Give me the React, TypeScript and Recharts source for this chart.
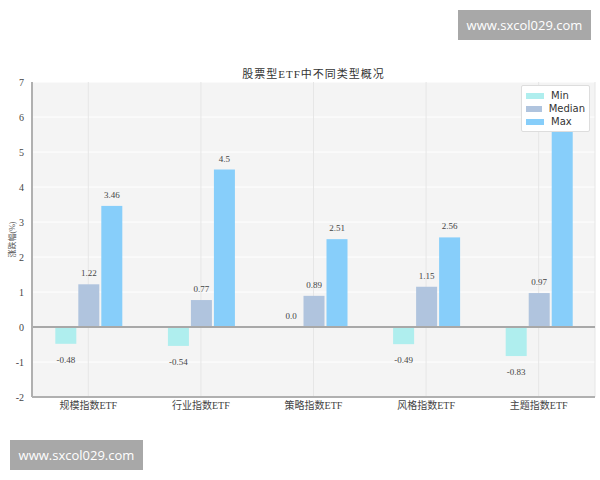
import React from 'react';
import { BarChart, Bar, XAxis, YAxis, CartesianGrid, ReferenceLine } from 'recharts';

const categories = ['规模指数ETF', '行业指数ETF', '策略指数ETF', '风格指数ETF', '主题指数ETF'];
const minValues = [-0.48, -0.54, 0, -0.49, -0.83];
const medianValues = [1.22, 0.77, 0.89, 1.15, 0.97];
const maxValues = [3.46, 4.5, 2.51, 2.56, 6.5];
const yTicks = [-2, -1, 0, 1, 2, 3, 4, 5, 6, 7];

const data = categories.map((name, i) => ({
  name,
  Min: minValues[i],
  Median: medianValues[i],
  Max: maxValues[i],
}));

const series = [
  { key: 'Min', color: '#afeeee' },
  { key: 'Median', color: '#b0c4de' },
  { key: 'Max', color: '#87cefa' },
];

const serif = '"Liberation Serif", "Noto Sans CJK SC", serif';

// bar + its value label, so that zero-height bars still get "0.0"
const makeShape = (key: string, color: string) => (props: any) => {
  const { x, y, width, height, payload } = props;
  const value = payload[key];
  const top = Math.min(y, y + height);
  const bottom = Math.max(y, y + height);
  const h = bottom - top;
  const ty = value < 0 ? bottom + 17 : top - 10;
  return (
    <g>
      {h > 0 && <rect x={x} y={top} width={width} height={h} fill={color} />}
      <text x={x + width / 2} y={ty} textAnchor="middle" dominantBaseline="middle" fontSize={9} fontFamily={serif} fill="#444">
        {value === 0 ? '0.0' : String(value)}
      </text>
    </g>
  );
};

const Watermark = ({ left, top }: { left: number; top: number }) => (
  <div
    style={{
      position: 'absolute',
      left,
      top,
      width: 133,
      height: 30,
      background: '#a8a8a8',
      color: '#fff',
      fontFamily: '"Open Sans", "DejaVu Sans", sans-serif',
      fontSize: 13,
      lineHeight: '30px',
      textAlign: 'center',
    }}
  >
    www.sxcol029.com
  </div>
);

export default function App() {
  return (
    <div style={{ position: 'absolute', left: 0, top: 0, width: 600, height: 480, background: '#fff' }}>
      <div
        style={{
          position: 'absolute',
          left: 32,
          width: 563,
          top: 65,
          textAlign: 'center',
          fontFamily: serif,
          fontSize: 11,
          color: '#333',
          letterSpacing: 1,
        }}
      >
        股票型ETF中不同类型概况
      </div>
      <BarChart
        width={600}
        height={480}
        data={data}
        margin={{ top: 82, right: 5, bottom: 53, left: 0 }}
        barCategoryGap="20.7%"
        barGap={2}
      >
        <CartesianGrid fill="#f4f4f4" stroke="#ffffff" vertical={false} />
        <CartesianGrid stroke="#e6e6e6" horizontal={false} fillOpacity={0} />
        <XAxis
          dataKey="name"
          height={30}
          tickLine={false}
          tickSize={0}
          tickMargin={5}
          axisLine={{ stroke: '#b0b0b0', strokeWidth: 2 }}
          tick={{ fontSize: 10, fontFamily: serif, fill: '#444' }}
        />
        <YAxis
          width={32}
          domain={[-2, 7]}
          ticks={yTicks}
          interval={0}
          tickLine={false}
          tickSize={0}
          tickMargin={8}
          axisLine={{ stroke: '#b0b0b0', strokeWidth: 2 }}
          tick={{ fontSize: 10, fontFamily: serif, fill: '#444' }}
          label={{
            value: '涨跌幅(%)',
            angle: -90,
            position: 'insideLeft',
            dx: 7,
            dy: 0,
            style: { fontSize: 8, fontFamily: serif, fill: '#555', textAnchor: 'middle' },
          }}
        />
        <ReferenceLine y={0} stroke="#a8a8a8" strokeWidth={2} />
        {series.map((s) => (
          <Bar key={s.key} dataKey={s.key} fill={s.color} isAnimationActive={false} shape={makeShape(s.key, s.color)} />
        ))}
      </BarChart>
      <div
        style={{
          position: 'absolute',
          left: 521,
          top: 85,
          width: 59,
          background: '#fff',
          border: '1px solid #ddd',
          borderRadius: 2,
          padding: '3px 4px',
          fontFamily: '"DejaVu Sans", sans-serif',
          fontSize: 10,
          color: '#333',
          lineHeight: '13px',
        }}
      >
        {series.map((s) => (
          <div key={s.key} style={{ display: 'flex', alignItems: 'center' }}>
            <span style={{ display: 'inline-block', width: 18, height: 6, background: s.color, marginRight: 7 }} />
            {s.key}
          </div>
        ))}
      </div>
      <Watermark left={458} top={10} />
      <Watermark left={10} top={440} />
    </div>
  );
}
